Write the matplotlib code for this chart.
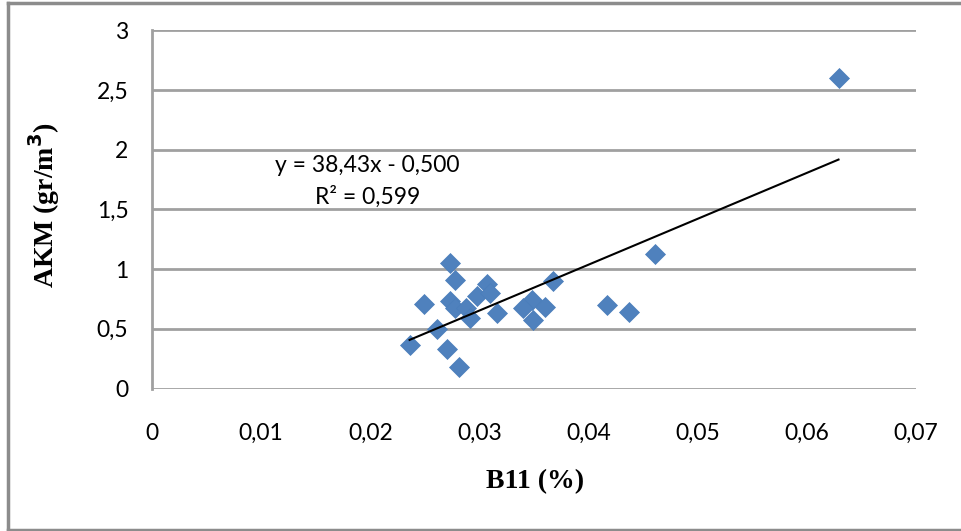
import matplotlib
matplotlib.use("Agg")
import matplotlib.pyplot as plt
from matplotlib.lines import Line2D
import numpy as np

# Data
b11 = [0.0273, 0.0278, 0.0249, 0.0273, 0.0278, 0.0288, 0.0291, 0.0298, 0.0307,
       0.0310, 0.0316, 0.0367, 0.0348, 0.0340, 0.0360, 0.0349, 0.0417, 0.0437,
       0.0461, 0.0261, 0.0236, 0.0270, 0.0281, 0.0629]
akm = [1.05, 0.91, 0.705, 0.733, 0.674, 0.672, 0.59, 0.775, 0.875,
       0.80, 0.635, 0.903, 0.741, 0.672, 0.68, 0.574, 0.70, 0.638,
       1.124, 0.498, 0.364, 0.331, 0.183, 2.60]
slope = 38.43
intercept = -0.500
eq_text = "y = 38,43x - 0,500"
r2_text = "R² = 0,599"
x_ticks = [0, 0.01, 0.02, 0.03, 0.04, 0.05, 0.06, 0.07]
x_tick_labels = ["0", "0,01", "0,02", "0,03", "0,04", "0,05", "0,06", "0,07"]
y_ticks = [0, 0.5, 1, 1.5, 2, 2.5, 3]
y_tick_labels = ["0", "0,5", "1", "1,5", "2", "2,5", "3"]

W, H = 961, 531
fig = plt.figure(figsize=(W / 100, H / 100), dpi=100)
ax = fig.add_axes([152 / W, 1 - 388.5 / H, (916 - 152) / W, (388.5 - 30.3) / H])

grid_col = "#a0a0a0"
ax.set_xlim(0, 0.07)
ax.set_ylim(0, 3)
ax.set_xticks(x_ticks)
ax.set_xticklabels(x_tick_labels)
ax.set_yticks(y_ticks)
ax.set_yticklabels(y_tick_labels)
ax.tick_params(length=0, labelsize=16.5)
ax.tick_params(axis="y", pad=17)
ax.tick_params(axis="x", pad=25)
for lab in ax.get_xticklabels() + ax.get_yticklabels():
    lab.set_fontfamily("Lato")
ax.yaxis.grid(True, color=grid_col, linewidth=2)
ax.set_axisbelow(True)
for s in ["top", "right", "bottom"]:
    ax.spines[s].set_visible(False)
ax.spines["left"].set_color(grid_col)
ax.spines["left"].set_linewidth(2)

ax.plot(b11, akm, linestyle="none", marker="D", markersize=10.5,
        markerfacecolor="#4F81BD", markeredgecolor="#4A7EBB", markeredgewidth=0.5,
        zorder=3)

xs = np.array([min(b11), max(b11)])
ax.plot(xs, slope * xs + intercept, color="black", linewidth=1.5, zorder=4)

ax.text(0.0197, 1.87, eq_text, ha="center", va="center", fontsize=16.5,
        family="Lato", color="black")
ax.text(0.0198, 1.61, r2_text, ha="center", va="center", fontsize=16.5,
        family="Lato", color="black")

fig.text(535 / W, 1 - 482 / H, "B11 (%)", ha="center", va="center",
         fontsize=20, fontweight="bold", family="Liberation Serif")
fig.text(44 / W, 1 - 205 / H, "AKM (gr/m$^{\\mathbf{3}}$)", ha="center", va="center",
         rotation=90, fontsize=20, fontweight="bold", family="Liberation Serif")

# outer chart border
border_col = "#8c8c8c"
fig.add_artist(Line2D([8 / W, 8 / W], [1 - 2.5 / H, 1 - 529.5 / H], color=border_col, lw=2.5))
fig.add_artist(Line2D([8 / W, 1], [1 - 2.5 / H, 1 - 2.5 / H], color=border_col, lw=2.5))
fig.add_artist(Line2D([8 / W, 1], [1 - 529.5 / H, 1 - 529.5 / H], color=border_col, lw=2.5))

fig.savefig("out.png", dpi=100)
